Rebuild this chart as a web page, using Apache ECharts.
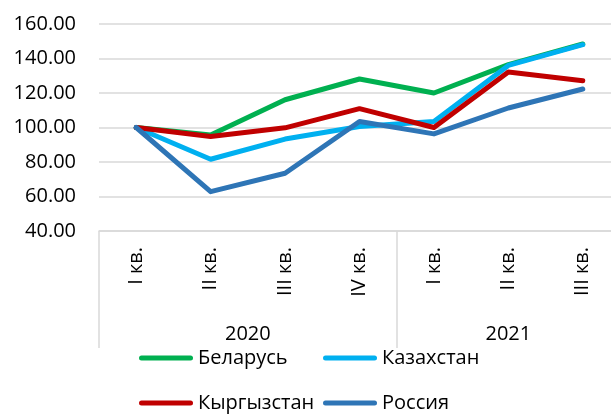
<!DOCTYPE html>
<html>
<head>
<meta charset="utf-8">
<script src="https://cdn.jsdelivr.net/npm/echarts@6/dist/echarts.min.js"></script>
<style>
html,body{margin:0;padding:0;background:#fff;}
#chart{width:611px;height:414px;}
</style>
</head>
<body>
<div id="chart"></div>
<script>
const quarters = ['I кв.', 'II кв.', 'III кв.', 'IV кв.', 'I кв.', 'II кв.', 'III кв.'];
const years = ['2020', '2021'];
const yearCounts = [4, 3];
const belarus = [100, 95.6, 116.1, 128.1, 120.0, 136.4, 148.4];
const kazakhstan = [100, 81.6, 93.3, 100.6, 103.5, 136.0, 148.0];
const kyrgyzstan = [100, 94.8, 99.8, 110.9, 100.0, 132.2, 127.1];
const russia = [100, 62.8, 73.5, 103.5, 96.3, 111.3, 122.3];
const yTicks = { min: 40, max: 160, step: 20 };

const seriesDefs = [
  { name: 'Беларусь', data: belarus, color: '#00B050' },
  { name: 'Казахстан', data: kazakhstan, color: '#00B0F0' },
  { name: 'Кыргызстан', data: kyrgyzstan, color: '#C00000' },
  { name: 'Россия', data: russia, color: '#2E75B6' }
];

// Build year-level axis on half-band positions (boundaryGap false)
const totalHalf = quarters.length * 2;
const yearAxisData = [];
const yearLabelIdx = {};
const yearBoundaryIdx = new Set([0]);
let acc = 0;
years.forEach((y, i) => {
  const center = acc * 2 + yearCounts[i];
  yearLabelIdx[center] = y;
  acc += yearCounts[i];
  yearBoundaryIdx.add(acc * 2);
});
for (let k = 0; k <= totalHalf; k++) yearAxisData.push(yearLabelIdx[k] || '');

const FONT = 'Open Sans';
const chart = echarts.init(document.getElementById('chart'), null, { renderer: 'canvas' });
const legendPos = [[139, 348], [323, 348], [139, 393], [323, 393]];
const option = {
  animation: false,
  backgroundColor: '#fff',
  grid: { left: 99, top: 24, width: 521, height: 207, containLabel: false, outerBoundsMode: 'none' },
  legend: seriesDefs.map((s, i) => ({
    data: [s.name],
    left: legendPos[i][0],
    top: legendPos[i][1],
    padding: 0,
    itemWidth: 54,
    itemHeight: 5,
    icon: 'path://M2.5,0 H51.5 A2.5,2.5 0 0 1 51.5,5 H2.5 A2.5,2.5 0 0 1 2.5,0 Z',
    textStyle: { fontFamily: FONT, fontSize: 20, color: '#000' }
  })),
  xAxis: [
    {
      type: 'category',
      data: quarters,
      boundaryGap: true,
      axisLine: { show: true, lineStyle: { color: '#d9d9d9', width: 1.5 } },
      axisTick: { show: false },
      axisLabel: { interval: 0, rotate: 90, margin: 16, fontFamily: FONT, fontSize: 20, color: '#000' }
    },
    {
      type: 'category',
      data: yearAxisData,
      boundaryGap: false,
      position: 'bottom',
      axisLine: { show: false },
      axisTick: {
        show: true,
        length: 117,
        interval: (idx) => yearBoundaryIdx.has(idx),
        lineStyle: { color: '#d9d9d9', width: 1.5 }
      },
      axisLabel: { interval: 0, margin: 93, fontFamily: FONT, fontSize: 20, color: '#000' }
    }
  ],
  yAxis: {
    type: 'value',
    min: yTicks.min,
    max: yTicks.max,
    interval: yTicks.step,
    axisLine: { show: false },
    axisTick: { show: false },
    splitLine: { lineStyle: { color: '#d9d9d9', width: 1.5 } },
    axisLabel: { margin: 23, fontFamily: FONT, fontSize: 20, color: '#000', formatter: v => v.toFixed(2) }
  },
  series: seriesDefs.map(s => ({
    name: s.name,
    type: 'line',
    data: s.data,
    xAxisIndex: 0,
    symbol: 'none',
    color: s.color,
    lineStyle: { width: 5, color: s.color, cap: 'round', join: 'round' }
  }))
};
chart.setOption(option);
</script>
</body>
</html>
